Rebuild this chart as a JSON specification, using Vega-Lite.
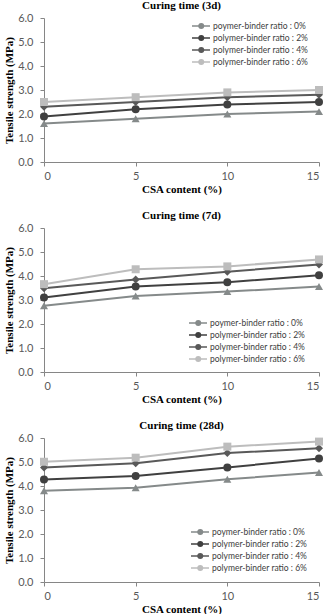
{
  "$schema": "https://vega.github.io/schema/vega-lite/v6.json",
  "background": "white",
  "padding": {"left": 3, "right": 5, "top": 0, "bottom": 0},
  "spacing": 16,
  "resolve": {"scale": {"color": "independent", "shape": "independent", "size": "independent"}},
  "config": {
    "view": {"stroke": null},
    "axis": {
      "grid": false,
      "domainColor": "#868686",
      "tickColor": "#868686",
      "tickSize": 4,
      "labelFont": "Lato",
      "labelFontSize": 11,
      "labelColor": "#595959",
      "titleFont": "Liberation Serif",
      "titleFontSize": 11,
      "titleFontWeight": "bold",
      "titleColor": "#000000"
    },
    "title": {"font": "Liberation Serif", "fontSize": 11, "fontWeight": "bold", "color": "#000000", "anchor": "middle", "offset": 1},
    "legend": {
      "labelFont": "Lato",
      "labelFontSize": 8.5,
      "labelColor": "#404040",
      "rowPadding": 0,
      "clipHeight": 12,
      "symbolOffset": 3,
      "padding": 0,
      "title": null
    }
  },
  "datasets": {
    "tensile": [
      {"curing": "3d", "series": "poymer-binder ratio : 0%", "ratio": "0%", "csa": 0, "strength": 1.6},
      {"curing": "3d", "series": "poymer-binder ratio : 0%", "ratio": "0%", "csa": 5, "strength": 1.8},
      {"curing": "3d", "series": "poymer-binder ratio : 0%", "ratio": "0%", "csa": 10, "strength": 2.0},
      {"curing": "3d", "series": "poymer-binder ratio : 0%", "ratio": "0%", "csa": 15, "strength": 2.1},
      {"curing": "3d", "series": "polymer-binder ratio : 2%", "ratio": "2%", "csa": 0, "strength": 1.9},
      {"curing": "3d", "series": "polymer-binder ratio : 2%", "ratio": "2%", "csa": 5, "strength": 2.2},
      {"curing": "3d", "series": "polymer-binder ratio : 2%", "ratio": "2%", "csa": 10, "strength": 2.4},
      {"curing": "3d", "series": "polymer-binder ratio : 2%", "ratio": "2%", "csa": 15, "strength": 2.5},
      {"curing": "3d", "series": "polymer-binder ratio : 4%", "ratio": "4%", "csa": 0, "strength": 2.3},
      {"curing": "3d", "series": "polymer-binder ratio : 4%", "ratio": "4%", "csa": 5, "strength": 2.5},
      {"curing": "3d", "series": "polymer-binder ratio : 4%", "ratio": "4%", "csa": 10, "strength": 2.7},
      {"curing": "3d", "series": "polymer-binder ratio : 4%", "ratio": "4%", "csa": 15, "strength": 2.8},
      {"curing": "3d", "series": "polymer-binder ratio : 6%", "ratio": "6%", "csa": 0, "strength": 2.5},
      {"curing": "3d", "series": "polymer-binder ratio : 6%", "ratio": "6%", "csa": 5, "strength": 2.7},
      {"curing": "3d", "series": "polymer-binder ratio : 6%", "ratio": "6%", "csa": 10, "strength": 2.9},
      {"curing": "3d", "series": "polymer-binder ratio : 6%", "ratio": "6%", "csa": 15, "strength": 3.0},
      {"curing": "7d", "series": "poymer-binder ratio : 0%", "ratio": "0%", "csa": 0, "strength": 2.76},
      {"curing": "7d", "series": "poymer-binder ratio : 0%", "ratio": "0%", "csa": 5, "strength": 3.17},
      {"curing": "7d", "series": "poymer-binder ratio : 0%", "ratio": "0%", "csa": 10, "strength": 3.35},
      {"curing": "7d", "series": "poymer-binder ratio : 0%", "ratio": "0%", "csa": 15, "strength": 3.56},
      {"curing": "7d", "series": "polymer-binder ratio : 2%", "ratio": "2%", "csa": 0, "strength": 3.1},
      {"curing": "7d", "series": "polymer-binder ratio : 2%", "ratio": "2%", "csa": 5, "strength": 3.56},
      {"curing": "7d", "series": "polymer-binder ratio : 2%", "ratio": "2%", "csa": 10, "strength": 3.74},
      {"curing": "7d", "series": "polymer-binder ratio : 2%", "ratio": "2%", "csa": 15, "strength": 4.03},
      {"curing": "7d", "series": "polymer-binder ratio : 4%", "ratio": "4%", "csa": 0, "strength": 3.49},
      {"curing": "7d", "series": "polymer-binder ratio : 4%", "ratio": "4%", "csa": 5, "strength": 3.85},
      {"curing": "7d", "series": "polymer-binder ratio : 4%", "ratio": "4%", "csa": 10, "strength": 4.18},
      {"curing": "7d", "series": "polymer-binder ratio : 4%", "ratio": "4%", "csa": 15, "strength": 4.48},
      {"curing": "7d", "series": "polymer-binder ratio : 6%", "ratio": "6%", "csa": 0, "strength": 3.66},
      {"curing": "7d", "series": "polymer-binder ratio : 6%", "ratio": "6%", "csa": 5, "strength": 4.28},
      {"curing": "7d", "series": "polymer-binder ratio : 6%", "ratio": "6%", "csa": 10, "strength": 4.4},
      {"curing": "7d", "series": "polymer-binder ratio : 6%", "ratio": "6%", "csa": 15, "strength": 4.69},
      {"curing": "28d", "series": "poymer-binder ratio : 0%", "ratio": "0%", "csa": 0, "strength": 3.8},
      {"curing": "28d", "series": "poymer-binder ratio : 0%", "ratio": "0%", "csa": 5, "strength": 3.93},
      {"curing": "28d", "series": "poymer-binder ratio : 0%", "ratio": "0%", "csa": 10, "strength": 4.28},
      {"curing": "28d", "series": "poymer-binder ratio : 0%", "ratio": "0%", "csa": 15, "strength": 4.56},
      {"curing": "28d", "series": "polymer-binder ratio : 2%", "ratio": "2%", "csa": 0, "strength": 4.27},
      {"curing": "28d", "series": "polymer-binder ratio : 2%", "ratio": "2%", "csa": 5, "strength": 4.42},
      {"curing": "28d", "series": "polymer-binder ratio : 2%", "ratio": "2%", "csa": 10, "strength": 4.77},
      {"curing": "28d", "series": "polymer-binder ratio : 2%", "ratio": "2%", "csa": 15, "strength": 5.15},
      {"curing": "28d", "series": "polymer-binder ratio : 4%", "ratio": "4%", "csa": 0, "strength": 4.77},
      {"curing": "28d", "series": "polymer-binder ratio : 4%", "ratio": "4%", "csa": 5, "strength": 4.95},
      {"curing": "28d", "series": "polymer-binder ratio : 4%", "ratio": "4%", "csa": 10, "strength": 5.37},
      {"curing": "28d", "series": "polymer-binder ratio : 4%", "ratio": "4%", "csa": 15, "strength": 5.57},
      {"curing": "28d", "series": "polymer-binder ratio : 6%", "ratio": "6%", "csa": 0, "strength": 5.01},
      {"curing": "28d", "series": "polymer-binder ratio : 6%", "ratio": "6%", "csa": 5, "strength": 5.18},
      {"curing": "28d", "series": "polymer-binder ratio : 6%", "ratio": "6%", "csa": 10, "strength": 5.64},
      {"curing": "28d", "series": "polymer-binder ratio : 6%", "ratio": "6%", "csa": 15, "strength": 5.85}
    ]
  },
  "vconcat": [
    {
      "title": {"text": "Curing time (3d)"},
      "width": 275,
      "height": 144,
      "data": {"name": "tensile"},
      "transform": [{"filter": "datum.curing === '3d'"}],
      "encoding": {
        "x": {"field": "csa", "type": "quantitative", "scale": {"domain": [0, 15]}, "axis": {"values": [0, 5, 10, 15], "format": "d", "title": "CSA content (%)", "labelPadding": 4, "titlePadding": 2}},
        "y": {"field": "strength", "type": "quantitative", "scale": {"domain": [0, 6]}, "axis": {"values": [0, 1, 2, 3, 4, 5, 6], "format": ".1f", "title": "Tensile strength (MPa)", "labelPadding": 7, "titlePadding": 3}}
      },
      "resolve": {"scale": {"color": "independent"}},
      "layer": [
        {
          "mark": {"type": "line", "strokeWidth": 2},
          "encoding": {
            "color": {"field": "series", "type": "nominal",
              "scale": {"domain": ["poymer-binder ratio : 0%", "polymer-binder ratio : 2%", "polymer-binder ratio : 4%", "polymer-binder ratio : 6%"], "range": ["#858a8a", "#404040", "#595959", "#bdbdbd"]},
              "legend": {"orient": "none", "legendX": 147, "legendY": 2, "symbolType": "M-1.5,0H1.5", "symbolSize": 144, "symbolStrokeWidth": 1.5, "labelOffset": 5}}
          }
        },
        {
          "mark": {"type": "point", "filled": true, "opacity": 1},
          "encoding": {
            "color": {"field": "ratio", "type": "nominal", "scale": {"domain": ["0%", "2%", "4%", "6%"], "range": ["#858a8a", "#404040", "#595959", "#bdbdbd"]},
              "legend": {"orient": "none", "legendX": 150, "legendY": 2, "symbolSize": 36, "labelExpr": "''"}},
            "shape": {"field": "ratio", "type": "nominal", "scale": {"domain": ["0%", "2%", "4%", "6%"], "range": ["triangle-up", "circle", "diamond", "square"]},
              "legend": {"orient": "none", "legendX": 150, "legendY": 2, "symbolSize": 36, "labelExpr": "''"}},
            "size": {"field": "ratio", "type": "ordinal", "legend": null, "scale": {"domain": ["0%", "2%", "4%", "6%"], "range": [64, 64, 36, 56]}}
          }
        }
      ]
    },
    {
      "title": {"text": "Curing time (7d)"},
      "width": 275,
      "height": 144,
      "data": {"name": "tensile"},
      "transform": [{"filter": "datum.curing === '7d'"}],
      "encoding": {
        "x": {"field": "csa", "type": "quantitative", "scale": {"domain": [0, 15]}, "axis": {"values": [0, 5, 10, 15], "format": "d", "title": "CSA content (%)", "labelPadding": 4, "titlePadding": 2}},
        "y": {"field": "strength", "type": "quantitative", "scale": {"domain": [0, 6]}, "axis": {"values": [0, 1, 2, 3, 4, 5, 6], "format": ".1f", "title": "Tensile strength (MPa)", "labelPadding": 7, "titlePadding": 3}}
      },
      "resolve": {"scale": {"color": "independent"}},
      "layer": [
        {
          "mark": {"type": "line", "strokeWidth": 2},
          "encoding": {
            "color": {"field": "series", "type": "nominal",
              "scale": {"domain": ["poymer-binder ratio : 0%", "polymer-binder ratio : 2%", "polymer-binder ratio : 4%", "polymer-binder ratio : 6%"], "range": ["#858a8a", "#404040", "#595959", "#bdbdbd"]},
              "legend": {"orient": "none", "legendX": 144, "legendY": 89, "symbolType": "M-1.5,0H1.5", "symbolSize": 144, "symbolStrokeWidth": 1.5, "labelOffset": 5}}
          }
        },
        {
          "mark": {"type": "point", "filled": true, "opacity": 1},
          "encoding": {
            "color": {"field": "ratio", "type": "nominal", "scale": {"domain": ["0%", "2%", "4%", "6%"], "range": ["#858a8a", "#404040", "#595959", "#bdbdbd"]},
              "legend": {"orient": "none", "legendX": 147, "legendY": 89, "symbolSize": 36, "labelExpr": "''"}},
            "shape": {"field": "ratio", "type": "nominal", "scale": {"domain": ["0%", "2%", "4%", "6%"], "range": ["triangle-up", "circle", "diamond", "square"]},
              "legend": {"orient": "none", "legendX": 147, "legendY": 89, "symbolSize": 36, "labelExpr": "''"}},
            "size": {"field": "ratio", "type": "ordinal", "legend": null, "scale": {"domain": ["0%", "2%", "4%", "6%"], "range": [64, 64, 36, 56]}}
          }
        }
      ]
    },
    {
      "title": {"text": "Curing time (28d)"},
      "width": 275,
      "height": 144,
      "data": {"name": "tensile"},
      "transform": [{"filter": "datum.curing === '28d'"}],
      "encoding": {
        "x": {"field": "csa", "type": "quantitative", "scale": {"domain": [0, 15]}, "axis": {"values": [0, 5, 10, 15], "format": "d", "title": "CSA content (%)", "labelPadding": 4, "titlePadding": 2}},
        "y": {"field": "strength", "type": "quantitative", "scale": {"domain": [0, 6]}, "axis": {"values": [0, 1, 2, 3, 4, 5, 6], "format": ".1f", "title": "Tensile strength (MPa)", "labelPadding": 7, "titlePadding": 3}}
      },
      "resolve": {"scale": {"color": "independent"}},
      "layer": [
        {
          "mark": {"type": "line", "strokeWidth": 2},
          "encoding": {
            "color": {"field": "series", "type": "nominal",
              "scale": {"domain": ["poymer-binder ratio : 0%", "polymer-binder ratio : 2%", "polymer-binder ratio : 4%", "polymer-binder ratio : 6%"], "range": ["#858a8a", "#404040", "#595959", "#bdbdbd"]},
              "legend": {"orient": "none", "legendX": 146, "legendY": 88, "symbolType": "M-1.5,0H1.5", "symbolSize": 144, "symbolStrokeWidth": 1.5, "labelOffset": 5}}
          }
        },
        {
          "mark": {"type": "point", "filled": true, "opacity": 1},
          "encoding": {
            "color": {"field": "ratio", "type": "nominal", "scale": {"domain": ["0%", "2%", "4%", "6%"], "range": ["#858a8a", "#404040", "#595959", "#bdbdbd"]},
              "legend": {"orient": "none", "legendX": 149, "legendY": 88, "symbolSize": 36, "labelExpr": "''"}},
            "shape": {"field": "ratio", "type": "nominal", "scale": {"domain": ["0%", "2%", "4%", "6%"], "range": ["triangle-up", "circle", "diamond", "square"]},
              "legend": {"orient": "none", "legendX": 149, "legendY": 88, "symbolSize": 36, "labelExpr": "''"}},
            "size": {"field": "ratio", "type": "ordinal", "legend": null, "scale": {"domain": ["0%", "2%", "4%", "6%"], "range": [64, 64, 36, 56]}}
          }
        }
      ]
    }
  ]
}
